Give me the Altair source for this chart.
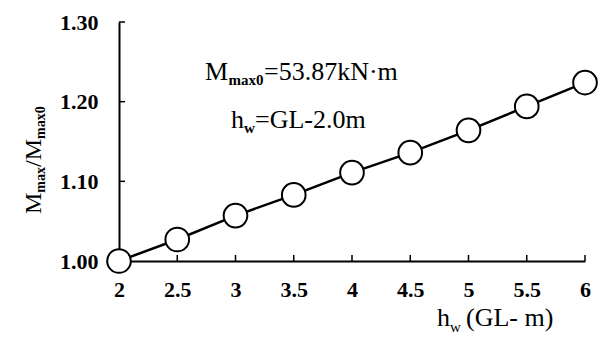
import altair as alt
import pandas as pd

hw = [2, 2.5, 3, 3.5, 4, 4.5, 5, 5.5, 6]
ratio = [1.000, 1.027, 1.057, 1.083, 1.111, 1.136, 1.164, 1.194, 1.224]
x_ticks = [2, 2.5, 3, 3.5, 4, 4.5, 5, 5.5, 6]
y_ticks = [1.0, 1.1, 1.2, 1.3]

df = pd.DataFrame({"hw": hw, "ratio": ratio})
xt = pd.DataFrame({"v": x_ticks})
yt = pd.DataFrame({"v": y_ticks})

FONT = "Liberation Serif"
W, H = 466, 239

xs = alt.Scale(domain=[2, 6], nice=False, zero=False)
ys = alt.Scale(domain=[1.0, 1.3], nice=False, zero=False)

x_axis = alt.Axis(values=x_ticks, format="~g", title=None, ticks=False, grid=False,
                  labelPadding=18, labelFlush=False, labelOverlap=False)
y_axis = alt.Axis(values=y_ticks, format=".2f", title=None, ticks=False, grid=False,
                  labelPadding=21, labelOverlap=False)

line = alt.Chart(df).mark_line(color="black", strokeWidth=2.5).encode(
    x=alt.X("hw:Q", scale=xs, axis=x_axis),
    y=alt.Y("ratio:Q", scale=ys, axis=y_axis),
)
pts = alt.Chart(df).mark_point(shape="circle", filled=True, fill="white", stroke="black",
                               strokeWidth=2, size=560, opacity=1).encode(
    x=alt.X("hw:Q", scale=xs),
    y=alt.Y("ratio:Q", scale=ys),
)
xtick = alt.Chart(xt).mark_rule(color="black", strokeWidth=1.5).encode(
    x=alt.X("v:Q", scale=xs), y=alt.value(H), y2=alt.value(H - 6))
ytick = alt.Chart(yt).mark_rule(color="black", strokeWidth=1.5).encode(
    y=alt.Y("v:Q", scale=ys), x=alt.value(0), x2=alt.value(6))

one = alt.Data(values=[{"a": 1}])


def txt(s, x, y, size, weight="normal", angle=0):
    return alt.Chart(one).mark_text(text=s, font=FONT, fontSize=size, fontWeight=weight,
                                    align="left", baseline="alphabetic", angle=angle,
                                    color="black").encode(x=alt.value(x), y=alt.value(y))


ann = [
    txt("M", 86, 58, 26),
    txt("max0", 109.5, 63, 15, "bold"),
    txt("=53.87kN\u00b7m", 145, 58, 26),
    txt("h", 112, 106, 26),
    txt("w", 125, 111, 15, "bold"),
    txt("=GL-2.0m", 136, 106, 26),
    # x title
    txt("h", 318, 304, 26),
    txt("w", 331, 310, 15),
    txt("(GL- m)", 347, 304, 26),
    # y title (rotated)
    txt("M", -78, 192, 24, angle=270),
    txt("max", -74, 170.7, 14, "bold", angle=270),
    txt("/M", -78, 145, 24, angle=270),
    txt("max0", -74, 117, 14, "bold", angle=270),
]

chart = alt.layer(line, xtick, ytick, pts, *ann).properties(
    width=W, height=H,
    autosize=alt.AutoSizeParams(type="none"),
    padding={"left": 119, "top": 22, "right": 22, "bottom": 82},
    background="white",
).configure_view(stroke=None).configure_axis(
    domainColor="black", domainWidth=2, labelFont=FONT, labelFontSize=22,
    labelFontWeight="bold", labelColor="black",
)

chart.save("out.html", embed_options={"renderer": "svg", "actions": False})
